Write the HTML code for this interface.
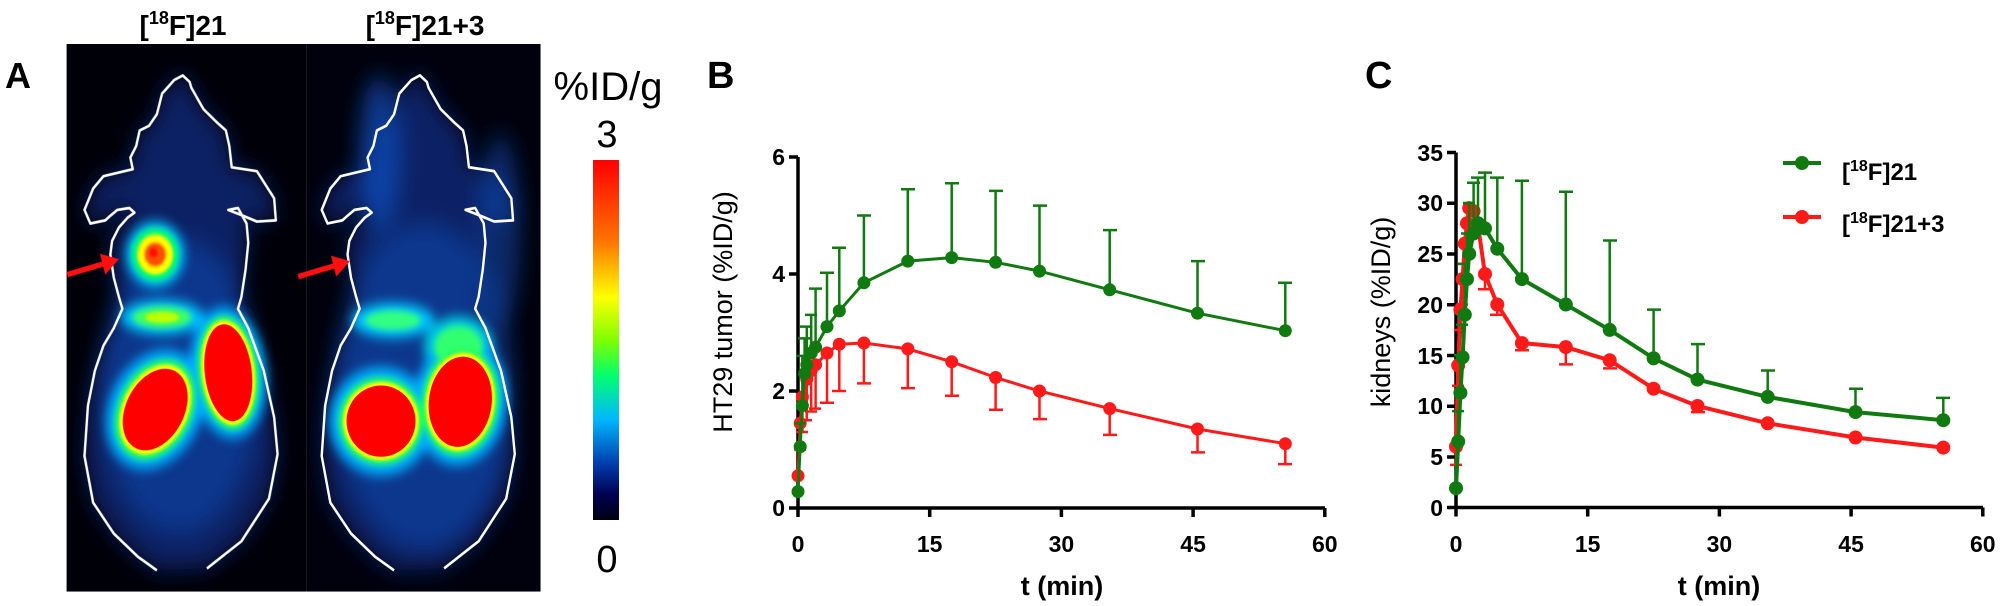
<!DOCTYPE html>
<html><head><meta charset="utf-8"><style>
html,body{margin:0;padding:0;background:#fff;}
svg{display:block;}
text{font-family:"Liberation Sans",Arial,sans-serif;}
</style></head><body>
<svg width="2001" height="606" viewBox="0 0 2001 606" xmlns="http://www.w3.org/2000/svg">
<defs>
<filter id="b30" x="-50%" y="-50%" width="200%" height="200%"><feGaussianBlur stdDeviation="30"/></filter>
<filter id="b15" x="-50%" y="-50%" width="200%" height="200%"><feGaussianBlur stdDeviation="15"/></filter>
<filter id="b8" x="-50%" y="-50%" width="200%" height="200%"><feGaussianBlur stdDeviation="8"/></filter>
<filter id="b4" x="-50%" y="-50%" width="200%" height="200%"><feGaussianBlur stdDeviation="4"/></filter>
<linearGradient id="cb" x1="0" y1="0" x2="0" y2="1">
<stop offset="0" stop-color="#ff0000"/><stop offset="0.22" stop-color="#ff7000"/>
<stop offset="0.38" stop-color="#ffff00"/><stop offset="0.5" stop-color="#80ff00"/>
<stop offset="0.6" stop-color="#00ff70"/><stop offset="0.72" stop-color="#00b8ff"/>
<stop offset="0.84" stop-color="#0040b0"/><stop offset="0.93" stop-color="#000050"/>
<stop offset="1" stop-color="#000010"/></linearGradient>
<path id="mouse" d="M455,1475 L400,1440 L330,1380 L270,1300 L245,1180 L255,1050 L275,960 L300,895 L330,850 L355,800 L345,770 L330,720 L320,660 L325,625 L345,590 L370,565 L390,552 L375,540 L340,545 L320,560 L305,572 L262,580 L245,545 L270,490 L300,458 L385,440 L378,410 L395,380 L405,340 L432,328 L455,298 L470,245 L505,210 L530,198 L550,215 L555,230 L590,285 L630,320 L655,340 L665,380 L672,435 L745,445 L770,480 L795,515 L800,572 L745,575 L705,560 L662,545 L690,540 L715,580 L720,630 L712,700 L700,770 L690,800 L720,850 L765,960 L795,1080 L805,1175 L780,1290 L700,1400 L600,1470"/>
</defs>

<!-- Panel A -->
<text x="5" y="88" font-size="36" font-weight="bold">A</text>
<text x="183" y="35" font-size="28" font-weight="bold" text-anchor="middle">[<tspan font-size="18" dy="-11">18</tspan><tspan dy="11">F]21</tspan></text>
<text x="425" y="35" font-size="28" font-weight="bold" text-anchor="middle">[<tspan font-size="18" dy="-11">18</tspan><tspan dy="11">F]21+3</tspan></text>

<g transform="matrix(0.3448,0,0,0.3876,0,-1.35)">
<svg x="193" y="117" width="1375" height="1413" viewBox="193 117 1375 1413" overflow="hidden">
<rect x="193" y="117" width="697" height="1413" fill="#000008"/>
<rect x="890" y="117" width="678" height="1413" fill="#00010c"/>
<g filter="url(#b30)">
<use href="#mouse" fill="#0a2e8a" opacity="0.7"/>
<ellipse cx="520" cy="1000" rx="230" ry="380" fill="#1048b0" opacity="0.55"/>
</g>
<g filter="url(#b15)">
<circle cx="450" cy="660" r="85" fill="#00c0ff"/>
<ellipse cx="470" cy="822" rx="120" ry="45" fill="#00c8ff"/>
<ellipse cx="450" cy="1060" rx="130" ry="165" transform="rotate(35 450 1060)" fill="#00b0ff"/>
<ellipse cx="662" cy="965" rx="110" ry="170" transform="rotate(-8 662 965)" fill="#00b0ff"/>
</g>
<g filter="url(#b8)">
<circle cx="450" cy="660" r="68" fill="#00ff70"/>
<ellipse cx="470" cy="822" rx="85" ry="28" fill="#40ff60"/>
<ellipse cx="450" cy="1060" rx="105" ry="140" transform="rotate(35 450 1060)" fill="#20ff60"/>
<ellipse cx="662" cy="965" rx="88" ry="148" transform="rotate(-8 662 965)" fill="#20ff60"/>
</g>
<g filter="url(#b4)">
<circle cx="450" cy="660" r="52" fill="#ffff00"/>
<ellipse cx="470" cy="822" rx="50" ry="14" fill="#c0ff00"/>
<ellipse cx="450" cy="1060" rx="92" ry="126" transform="rotate(35 450 1060)" fill="#ffff00"/>
<ellipse cx="662" cy="965" rx="77" ry="136" transform="rotate(-8 662 965)" fill="#ffff00"/>
<circle cx="450" cy="660" r="32" fill="#ff5000"/>
<circle cx="445" cy="655" r="14" fill="#ff1000"/>
</g>
<ellipse cx="450" cy="1060" rx="82" ry="115" transform="rotate(35 450 1060)" fill="#ff0000"/>
<ellipse cx="662" cy="965" rx="68" ry="126" transform="rotate(-8 662 965)" fill="#ff0000"/>
<g filter="url(#b30)">
<use href="#mouse" transform="translate(688,0)" fill="#0a2e8a" opacity="0.7"/>
<ellipse cx="1230" cy="1000" rx="260" ry="420" fill="#1048b0" opacity="0.55"/>
<ellipse cx="1100" cy="400" rx="60" ry="200" fill="#1050c0" opacity="0.7"/>
<ellipse cx="1450" cy="600" rx="60" ry="250" fill="#1050c0" opacity="0.5"/>
</g>
<g filter="url(#b15)">
<ellipse cx="1140" cy="830" rx="120" ry="45" fill="#00c8ff"/>
<ellipse cx="1330" cy="900" rx="100" ry="80" fill="#00d0e0"/>
<ellipse cx="1105" cy="1090" rx="150" ry="140" fill="#00b0ff"/>
<ellipse cx="1335" cy="1040" rx="135" ry="165" transform="rotate(10 1335 1040)" fill="#00b0ff"/>
</g>
<g filter="url(#b8)">
<ellipse cx="1140" cy="830" rx="80" ry="25" fill="#30ff80"/>
<ellipse cx="1330" cy="900" rx="70" ry="55" fill="#30ff70"/>
<ellipse cx="1105" cy="1090" rx="123" ry="113" fill="#20ff60"/>
<ellipse cx="1335" cy="1040" rx="112" ry="140" transform="rotate(10 1335 1040)" fill="#20ff60"/>
</g>
<g filter="url(#b4)">
<ellipse cx="1105" cy="1090" rx="110" ry="101" fill="#ffff00"/>
<ellipse cx="1335" cy="1040" rx="100" ry="127" transform="rotate(10 1335 1040)" fill="#ffff00"/>
</g>
<ellipse cx="1105" cy="1090" rx="100" ry="92" fill="#ff0000"/>
<ellipse cx="1335" cy="1040" rx="91" ry="117" transform="rotate(10 1335 1040)" fill="#ff0000"/>
<use href="#mouse" fill="none" stroke="#fff" stroke-width="7" stroke-linejoin="round"/>
<use href="#mouse" transform="translate(688,0)" fill="none" stroke="#fff" stroke-width="7" stroke-linejoin="round"/>
<line x1="195" y1="712" x2="300" y2="684" stroke="#ff1010" stroke-width="14"/>
<polygon points="345,672 290,658 305,712" fill="#ff1010"/>
<line x1="865" y1="717" x2="970" y2="689" stroke="#ff1010" stroke-width="14"/>
<polygon points="1015,677 960,663 975,717" fill="#ff1010"/>
</svg>
</g>

<!-- colorbar -->
<text x="608" y="100" font-size="40" text-anchor="middle">%ID/g</text>
<text x="607" y="147" font-size="38" text-anchor="middle">3</text>
<rect x="593" y="160" width="26" height="360" fill="url(#cb)"/>
<text x="607" y="572" font-size="38" text-anchor="middle">0</text>

<!-- Panel B -->
<text x="707" y="88" font-size="38" font-weight="bold">B</text>
<g stroke="#000" stroke-width="3.5" fill="none">
<path d="M798,157 V508 H1325"/>
<path d="M789,157H798 M789,274H798 M789,391H798 M789,508H798"/>
<path d="M798,508V517 M929.7,508V517 M1061.4,508V517 M1193.1,508V517 M1324.8,508V517"/>
</g>
<g font-size="23" font-weight="bold" text-anchor="end">
<text x="785" y="165">6</text><text x="785" y="282">4</text><text x="785" y="399">2</text><text x="785" y="516">0</text>
</g>
<g font-size="23" font-weight="bold" text-anchor="middle">
<text x="798" y="552">0</text><text x="929.7" y="552">15</text><text x="1061.4" y="552">30</text><text x="1193.1" y="552">45</text><text x="1324.8" y="552">60</text>
</g>
<text x="1062" y="595" font-size="27" font-weight="bold" text-anchor="middle">t (min)</text>
<text transform="translate(732,312) rotate(-90)" font-size="27" text-anchor="middle">HT29 tumor (%ID/g)</text>

<!-- B red -->
<g stroke="#ff1a1a" stroke-width="2.5" fill="none">
<path d="M800.2,423.2V449.5 M802.4,396.9V432 M806.8,379.3V420.3 M811.2,370.5V411.5 M815.6,364.7V408.6 M827,353V402.7 M839.3,344.2V391 M863.9,343V383.4 M907.8,348.9V388.1 M951.7,361.8V395.7 M995.6,377.5V409.7 M1039.5,391V419.1 M1109.7,408.6V434.9 M1197.5,429V452.4 M1285.3,443.7V464.1"/>
<path d="M794,449.5h12 M796,432h12 M800,420.3h12 M805,411.5h12 M809,408.6h12 M820,402.7h14 M832,391h14 M857,383.4h14 M901,388.1h14 M945,395.7h14 M989,409.7h14 M1033,419.1h14 M1103,434.9h14 M1191,452.4h14 M1278,464.1h14"/>
</g>
<polyline fill="none" stroke="#ff1a1a" stroke-width="3" points="798,475.8 800.2,423.2 802.4,396.9 806.8,379.3 811.2,370.5 815.6,364.7 827,353 839.3,344.2 863.9,343 907.8,348.9 951.7,361.8 995.6,377.5 1039.5,391 1109.7,408.6 1197.5,429 1285.3,443.7"/>
<g fill="#ff1a1a">
<circle cx="798" cy="475.8" r="6.5"/><circle cx="800.2" cy="423.2" r="6.5"/><circle cx="802.4" cy="396.9" r="6.5"/><circle cx="806.8" cy="379.3" r="6.5"/><circle cx="811.2" cy="370.5" r="6.5"/><circle cx="815.6" cy="364.7" r="6.5"/><circle cx="827" cy="353" r="6.5"/><circle cx="839.3" cy="344.2" r="6.5"/><circle cx="863.9" cy="343" r="6.5"/><circle cx="907.8" cy="348.9" r="6.5"/><circle cx="951.7" cy="361.8" r="6.5"/><circle cx="995.6" cy="377.5" r="6.5"/><circle cx="1039.5" cy="391" r="6.5"/><circle cx="1109.7" cy="408.6" r="6.5"/><circle cx="1197.5" cy="429" r="6.5"/><circle cx="1285.3" cy="443.7" r="6.5"/>
</g>
<!-- B green -->
<g stroke="#107a10" stroke-width="2.5" fill="none">
<path d="M800.2,423.2V446.6 M802.4,355.9V405.6 M804.6,338.4V373.5 M806.8,326.6V364.7 M811.2,314.9V353 M815.6,288.6V347.1 M827,272.8V326.6 M839.3,247.7V310.9 M863.9,215.5V282.8 M907.8,189.2V261.1 M951.7,183.3V257.6 M995.6,190.9V262.3 M1039.5,205.6V271.1 M1109.7,230.1V289.8 M1197.5,261.1V313.2 M1285.3,282.8V330.7"/>
<path d="M794,423.2h12 M796,355.9h12 M798,338.4h12 M800,326.6h12 M805,314.9h12 M809,288.6h13 M820,272.8h14 M832,247.7h14 M857,215.5h14 M901,189.2h14 M945,183.3h14 M989,190.9h14 M1033,205.6h14 M1103,230.1h14 M1191,261.1h14 M1278,282.8h14"/>
</g>
<polyline fill="none" stroke="#107a10" stroke-width="3" points="798,491.6 800.2,446.6 802.4,405.6 804.6,373.5 806.8,364.7 811.2,353 815.6,347.1 827,326.6 839.3,310.9 863.9,282.8 907.8,261.1 951.7,257.6 995.6,262.3 1039.5,271.1 1109.7,289.8 1197.5,313.2 1285.3,330.7"/>
<g fill="#107a10">
<circle cx="798" cy="491.6" r="6.5"/><circle cx="800.2" cy="446.6" r="6.5"/><circle cx="802.4" cy="405.6" r="6.5"/><circle cx="804.6" cy="373.5" r="6.5"/><circle cx="806.8" cy="364.7" r="6.5"/><circle cx="811.2" cy="353" r="6.5"/><circle cx="815.6" cy="347.1" r="6.5"/><circle cx="827" cy="326.6" r="6.5"/><circle cx="839.3" cy="310.9" r="6.5"/><circle cx="863.9" cy="282.8" r="6.5"/><circle cx="907.8" cy="261.1" r="6.5"/><circle cx="951.7" cy="257.6" r="6.5"/><circle cx="995.6" cy="262.3" r="6.5"/><circle cx="1039.5" cy="271.1" r="6.5"/><circle cx="1109.7" cy="289.8" r="6.5"/><circle cx="1197.5" cy="313.2" r="6.5"/><circle cx="1285.3" cy="330.7" r="6.5"/>
</g>

<!-- Panel C -->
<text x="1365" y="88" font-size="38" font-weight="bold">C</text>
<g stroke="#000" stroke-width="3.5" fill="none">
<path d="M1456,152.5 V507.5 H1983"/>
<path d="M1447,152.5H1456 M1447,203.2H1456 M1447,254H1456 M1447,304.7H1456 M1447,355.5H1456 M1447,406.2H1456 M1447,457H1456 M1447,507.5H1456"/>
<path d="M1456,507.5V516.5 M1587.7,507.5V516.5 M1719.4,507.5V516.5 M1851.1,507.5V516.5 M1982.8,507.5V516.5"/>
</g>
<g font-size="23" font-weight="bold" text-anchor="end">
<text x="1443" y="161">35</text><text x="1443" y="211">30</text><text x="1443" y="262">25</text><text x="1443" y="313">20</text><text x="1443" y="364">15</text><text x="1443" y="414">10</text><text x="1443" y="465">5</text><text x="1443" y="516">0</text>
</g>
<g font-size="23" font-weight="bold" text-anchor="middle">
<text x="1456" y="552">0</text><text x="1587.7" y="552">15</text><text x="1719.4" y="552">30</text><text x="1851.1" y="552">45</text><text x="1982.8" y="552">60</text>
</g>
<text x="1719" y="595" font-size="27" font-weight="bold" text-anchor="middle">t (min)</text>
<text transform="translate(1390,312) rotate(-90)" font-size="27" text-anchor="middle">kidneys (%ID/g)</text>

<!-- C red -->
<g stroke="#ff1a1a" stroke-width="2.5" fill="none">
<path d="M1456,446.6V464.9 M1458.2,365.4V385.7 M1460.4,309.6V329.9 M1462.6,279.1V304.5 M1464.8,243.6V263.9 M1485,274.1V289.3 M1497.3,304.5V314.7 M1521.9,343.1V350.2 M1565.8,347.1V364.4 M1609.7,360.3V368.4 M1697.5,406V412.1"/>
<path d="M1450,464.9h12 M1452,385.7h12 M1454,329.9h12 M1456,304.5h12 M1458,263.9h12 M1478,289.3h14 M1490,314.7h14 M1515,350.2h14 M1559,364.4h14 M1603,368.4h14 M1691,412.1h14"/>
</g>
<polyline fill="none" stroke="#ff1a1a" stroke-width="4" points="1456,446.6 1458.2,365.4 1460.4,309.6 1462.6,279.1 1464.8,243.6 1467,223.3 1469.2,208.1 1473.6,211.1 1478,225.3 1485,274.1 1497.3,304.5 1521.9,343.1 1565.8,347.1 1609.7,360.3 1653.6,388.7 1697.5,406 1767.7,423.3 1855.5,437.5 1943.3,447.6"/>
<g fill="#ff1a1a">
<circle cx="1456" cy="446.6" r="7"/><circle cx="1458.2" cy="365.4" r="7"/><circle cx="1460.4" cy="309.6" r="7"/><circle cx="1462.6" cy="279.1" r="7"/><circle cx="1464.8" cy="243.6" r="7"/><circle cx="1467" cy="223.3" r="7"/><circle cx="1469.2" cy="208.1" r="7"/><circle cx="1473.6" cy="211.1" r="7"/><circle cx="1478" cy="225.3" r="7"/><circle cx="1485" cy="274.1" r="7"/><circle cx="1497.3" cy="304.5" r="7"/><circle cx="1521.9" cy="343.1" r="7"/><circle cx="1565.8" cy="347.1" r="7"/><circle cx="1609.7" cy="360.3" r="7"/><circle cx="1653.6" cy="388.7" r="7"/><circle cx="1697.5" cy="406" r="7"/><circle cx="1767.7" cy="423.3" r="7"/><circle cx="1855.5" cy="437.5" r="7"/><circle cx="1943.3" cy="447.6" r="7"/>
</g>
<!-- C green -->
<g stroke="#107a10" stroke-width="2.5" fill="none">
<path d="M1458.2,411.1V441.5 M1460.4,355.3V392.8 M1462.6,324.8V357.3 M1464.8,263.9V314.7 M1467,233.5V279.1 M1469.2,203V253.8 M1473.6,182.7V233.5 M1478,177.6V223.3 M1485,172.6V228.4 M1497.3,177.6V248.7 M1521.9,180.7V279.1 M1565.8,191.8V304.5 M1609.7,240.5V329.9 M1653.6,309.6V358.3 M1697.5,344.1V379.6 M1767.7,370.5V396.9 M1855.5,388.8V412.1 M1943.3,397.9V420.2"/>
<path d="M1452,411.1h12 M1454,355.3h12 M1456,324.8h12 M1458,263.9h12 M1461,233.5h12 M1463,203h12 M1467,182.7h13 M1471,177.6h14 M1478,172.6h14 M1490,177.6h14 M1515,180.7h14 M1559,191.8h14 M1603,240.5h14 M1647,309.6h14 M1691,344.1h14 M1761,370.5h14 M1849,388.8h14 M1936,397.9h14"/>
</g>
<polyline fill="none" stroke="#107a10" stroke-width="4" points="1456,488.2 1458.2,441.5 1460.4,392.8 1462.6,357.3 1464.8,314.7 1467,279.1 1469.2,253.8 1473.6,233.5 1478,223.3 1485,228.4 1497.3,248.7 1521.9,279.1 1565.8,304.5 1609.7,329.9 1653.6,358.3 1697.5,379.6 1767.7,396.9 1855.5,412.1 1943.3,420.2"/>
<g fill="#107a10">
<circle cx="1456" cy="488.2" r="7"/><circle cx="1458.2" cy="441.5" r="7"/><circle cx="1460.4" cy="392.8" r="7"/><circle cx="1462.6" cy="357.3" r="7"/><circle cx="1464.8" cy="314.7" r="7"/><circle cx="1467" cy="279.1" r="7"/><circle cx="1469.2" cy="253.8" r="7"/><circle cx="1473.6" cy="233.5" r="7"/><circle cx="1478" cy="223.3" r="7"/><circle cx="1485" cy="228.4" r="7"/><circle cx="1497.3" cy="248.7" r="7"/><circle cx="1521.9" cy="279.1" r="7"/><circle cx="1565.8" cy="304.5" r="7"/><circle cx="1609.7" cy="329.9" r="7"/><circle cx="1653.6" cy="358.3" r="7"/><circle cx="1697.5" cy="379.6" r="7"/><circle cx="1767.7" cy="396.9" r="7"/><circle cx="1855.5" cy="412.1" r="7"/><circle cx="1943.3" cy="420.2" r="7"/>
</g>

<!-- legend -->
<line x1="1783" y1="163" x2="1821" y2="163" stroke="#107a10" stroke-width="4"/>
<circle cx="1802" cy="163" r="7" fill="#107a10"/>
<text x="1842" y="180" font-size="24" font-weight="bold">[<tspan font-size="16" dy="-9">18</tspan><tspan dy="9">F]21</tspan></text>
<line x1="1783" y1="217" x2="1821" y2="217" stroke="#ff1a1a" stroke-width="4"/>
<circle cx="1802" cy="217" r="7" fill="#ff1a1a"/>
<text x="1842" y="232" font-size="24" font-weight="bold">[<tspan font-size="16" dy="-9">18</tspan><tspan dy="9">F]21+3</tspan></text>
</svg>
</body></html>
